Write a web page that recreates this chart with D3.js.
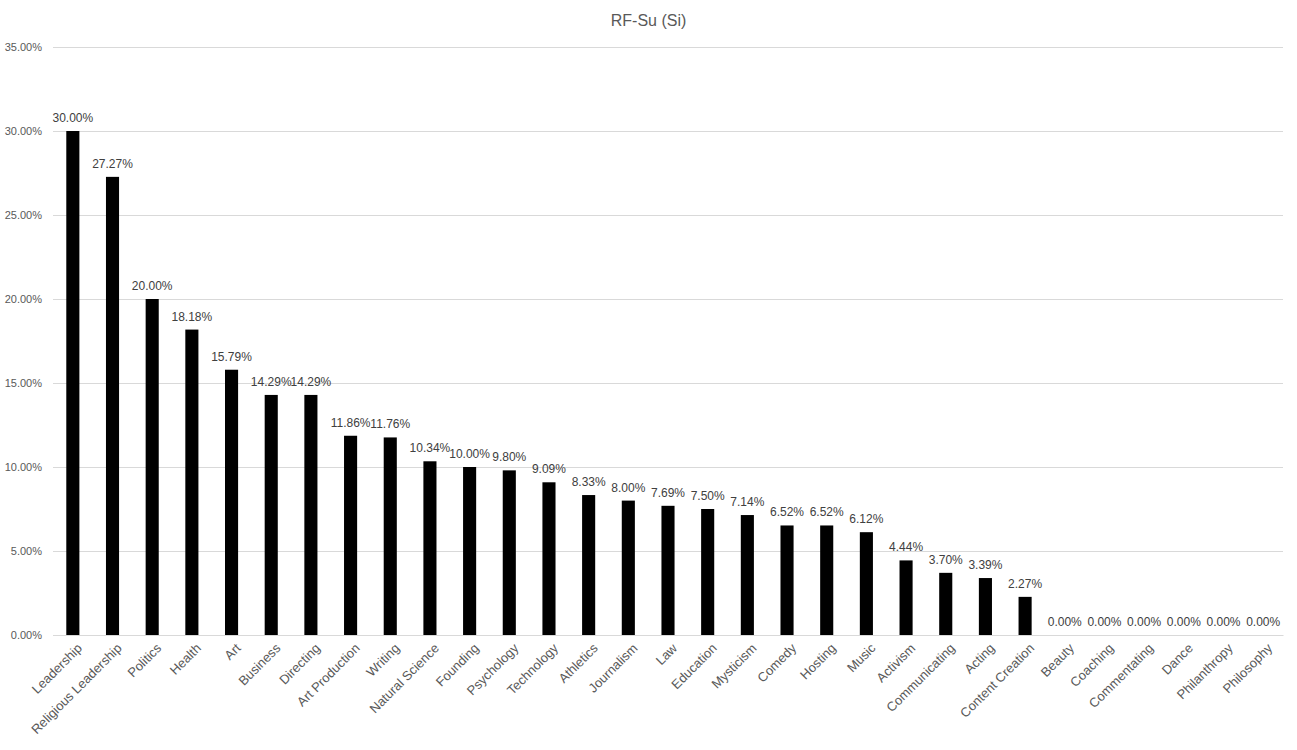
<!DOCTYPE html>
<html>
<head>
<meta charset="utf-8">
<script src="https://cdn.jsdelivr.net/npm/d3@7"></script>
<style>
  body { margin: 0; background: #fff; }
  svg { font-family: "Liberation Sans", Arial, sans-serif; }
</style>
</head>
<body>
<svg id="chart" width="1297" height="750"></svg>
<script>
const width = 1297;
const height = 750;

const categories = ["Leadership", "Religious Leadership", "Politics", "Health", "Art", "Business",
  "Directing", "Art Production", "Writing", "Natural Science", "Founding", "Psychology",
  "Technology", "Athletics", "Journalism", "Law", "Education", "Mysticism", "Comedy",
  "Hosting", "Music", "Activism", "Communicating", "Acting", "Content Creation",
  "Beauty", "Coaching", "Commentating", "Dance", "Philanthropy", "Philosophy"];
const values = [30.00, 27.27, 20.00, 18.18, 15.79, 14.29, 14.29, 11.86, 11.76, 10.34, 10.00,
  9.80, 9.09, 8.33, 8.00, 7.69, 7.50, 7.14, 6.52, 6.52, 6.12, 4.44, 3.70, 3.39, 2.27,
  0, 0, 0, 0, 0, 0];
const yTicks = [0, 5, 10, 15, 20, 25, 30, 35];

const margin = {top: 47, right: 14, bottom: 115, left: 53};

const svg = d3.select("#chart");

const x = d3.scaleBand()
  .domain(categories)
  .range([margin.left, width - margin.right])
  .paddingInner(0.67)
  .paddingOuter(0.335);

const y = d3.scaleLinear()
  .domain([0, 35])
  .range([height - margin.bottom, margin.top]);

// title
svg.append("text")
  .attr("x", width / 2)
  .attr("y", 26)
  .attr("text-anchor", "middle")
  .attr("fill", "#595959")
  .style("font-size", "16px")
  .text("RF-Su (Si)");

// gridlines + y labels
const yAxis = d3.axisLeft(y)
  .tickValues(yTicks)
  .tickSize(-(width - margin.left - margin.right))
  .tickPadding(11)
  .tickFormat(d => d.toFixed(2) + "%");

svg.append("g")
  .attr("transform", `translate(${margin.left},0)`)
  .call(yAxis)
  .call(g => g.select(".domain").remove())
  .call(g => g.selectAll(".tick line").attr("stroke", "#d9d9d9"))
  .call(g => g.selectAll(".tick text")
    .attr("fill", "#595959")
    .style("font-size", "11px")
    .style("font-family", "Liberation Sans, Arial, sans-serif"));

// bars
svg.append("g")
  .selectAll("rect")
  .data(values)
  .join("rect")
    .attr("x", (d, i) => x(categories[i]))
    .attr("y", d => y(d))
    .attr("width", x.bandwidth())
    .attr("height", d => y(0) - y(d))
    .attr("fill", "#000");

// data labels
svg.append("g")
  .selectAll("text")
  .data(values)
  .join("text")
    .attr("x", (d, i) => x(categories[i]) + x.bandwidth() / 2)
    .attr("y", d => y(d) - 9)
    .attr("text-anchor", "middle")
    .attr("fill", "#404040")
    .style("font-size", "12px")
    .text(d => d.toFixed(2) + "%");

// x axis
const xAxis = d3.axisBottom(x).tickSize(0).tickPadding(0);

svg.append("g")
  .attr("transform", `translate(0,${y(0)})`)
  .call(xAxis)
  .call(g => g.select(".domain").attr("stroke", "#d9d9d9"))
  .call(g => g.selectAll(".tick text")
    .attr("fill", "#595959")
    .style("font-size", "13px")
    .style("font-family", "Liberation Sans, Arial, sans-serif")
    .attr("text-anchor", "end")
    .attr("dy", "0")
    .attr("transform", "translate(10,14) rotate(-45)"));
</script>
</body>
</html>
